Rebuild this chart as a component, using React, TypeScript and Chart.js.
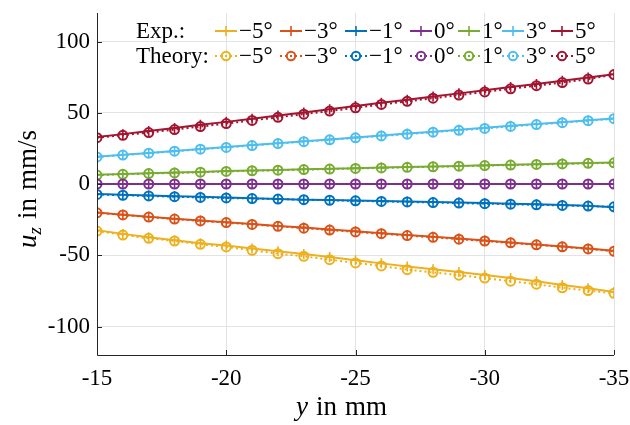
import React, { useEffect, useRef } from "react";
import { Chart, registerables } from "chart.js";

Chart.register(...registerables);

const yPositions = [-15, -16, -17, -18, -19, -20, -21, -22, -23, -24, -25, -26, -27, -28, -29, -30, -31, -32, -33, -34, -35];

const angleLabels = ["\u22125\u00B0", "\u22123\u00B0", "\u22121\u00B0", "0\u00B0", "1\u00B0", "3\u00B0", "5\u00B0"];
const seriesColors = ["#EDB120", "#D95319", "#0072BD", "#7E2F8E", "#77AC30", "#4DBEEE", "#A2142F"];

const expM5 = [-32.5, -35, -37.3, -39.4, -41.5, -43.2, -45.2, -47.2, -49.2, -51.3, -53.5, -55.7, -57.9, -59.8, -61.8, -63.8, -66, -68.3, -70.8, -73.2, -75.8];
const expM3 = [-20, -21.5, -23, -24.4, -25.6, -26.8, -28, -29.4, -30.6, -32, -33.2, -34.5, -35.8, -37, -38.3, -39.6, -41, -42.4, -43.8, -45.3, -46.8];
const expM1 = [-7, -7.5, -8, -8.6, -9, -9.5, -10, -10.5, -11, -11.3, -11.6, -12, -12.3, -12.7, -13, -13.4, -13.8, -14.2, -14.7, -15.3, -16.3];
const exp0 = [0, 0, 0, 0, 0, 0, 0, 0, 0, 0, 0, 0, 0, 0, 0, 0, 0, 0, 0, 0, 0];
const exp1 = [6.5, 7, 7.5, 8, 8.5, 9.1, 9.5, 9.9, 10.3, 10.7, 11.1, 11.5, 11.9, 12.3, 12.7, 13.1, 13.5, 13.9, 14.3, 14.7, 15.1];
const exp3 = [19.2, 20.5, 21.8, 23.2, 24.6, 26, 27.3, 28.6, 30, 31.3, 32.7, 34, 35.4, 36.7, 38.1, 39.5, 40.8, 42.1, 43.4, 44.7, 46];
const exp5 = [33, 35, 37.2, 39.3, 41.5, 43.6, 45.8, 48, 50.2, 52.5, 54.7, 57, 59.2, 61.4, 63.6, 65.8, 68, 70.2, 72.4, 74.7, 77];

const thM5 = [-33, -35.8, -38.1, -40, -42.3, -44.2, -46.5, -48.9, -50.7, -53.1, -55.4, -57.5, -60.1, -62, -64, -66, -68.2, -70.3, -72.8, -74.8, -76.7];
const thM3 = [-20.2, -21.7, -23.2, -24.6, -25.9, -27.1, -28.4, -29.7, -31, -32.3, -33.6, -34.9, -36.2, -37.4, -38.7, -40, -41.3, -42.7, -44.1, -45.6, -47.2];
const thM1 = [-7.3, -7.9, -8.4, -8.9, -9.4, -9.8, -10.2, -10.6, -11, -11.4, -11.8, -12.2, -12.6, -13, -13.4, -13.8, -14.2, -14.6, -15, -15.5, -16];
const th0 = [0, 0, 0, 0, 0, 0, 0, 0, 0, 0, 0, 0, 0, 0, 0, 0, 0, 0, 0, 0, 0];
const th1 = [6.3, 6.8, 7.3, 7.8, 8.3, 8.8, 9.3, 9.7, 10.1, 10.5, 10.9, 11.3, 11.7, 12.1, 12.5, 12.9, 13.3, 13.7, 14.1, 14.5, 14.9];
const th3 = [19, 20.3, 21.6, 23, 24.4, 25.7, 27, 28.4, 29.7, 31, 32.4, 33.7, 35, 36.4, 37.7, 39, 40.4, 41.7, 43, 44.4, 45.8];
const th5 = [32.5, 34.2, 36.1, 38.2, 40.3, 42.4, 44.6, 46.8, 49, 51.2, 53.5, 55.8, 58, 60.2, 62.4, 64.6, 66.8, 69, 71.2, 73.6, 76.8];

const expSeries = [expM5, expM3, expM1, exp0, exp1, exp3, exp5];
const theorySeries = [thM5, thM3, thM1, th0, th1, th3, th5];

const xTicks = [-15, -20, -25, -30, -35];
const yTicks = [-100, -50, 0, 50, 100];

const SERIF = "'Liberation Serif', 'DejaVu Serif', serif";
const AXIS_COLOR = "#262626";

function drawPlus(ctx: CanvasRenderingContext2D, x: number, y: number, r: number, color: string) {
  ctx.save();
  ctx.strokeStyle = color;
  ctx.lineWidth = 1.6;
  ctx.beginPath();
  ctx.moveTo(x - r, y);
  ctx.lineTo(x + r, y);
  ctx.moveTo(x, y - r);
  ctx.lineTo(x, y + r);
  ctx.stroke();
  ctx.restore();
}

const decorPlugin = {
  id: "decor",
  afterDraw(chart: any) {
    const ctx: CanvasRenderingContext2D = chart.ctx;
    const { left, right, top, bottom } = chart.chartArea;
    const xs = chart.scales.x;
    const ys = chart.scales.y;
    ctx.save();
    // axis lines
    ctx.strokeStyle = AXIS_COLOR;
    ctx.lineWidth = 1;
    ctx.beginPath();
    ctx.moveTo(left + 0.5, top);
    ctx.lineTo(left + 0.5, bottom + 0.5);
    ctx.lineTo(right, bottom + 0.5);
    ctx.stroke();
    // inward ticks
    ctx.beginPath();
    for (const v of xTicks) {
      const px = Math.round(xs.getPixelForValue(v)) + 0.5;
      ctx.moveTo(px, bottom);
      ctx.lineTo(px, bottom - 5);
    }
    for (const v of yTicks) {
      const py = Math.round(ys.getPixelForValue(v)) + 0.5;
      ctx.moveTo(left, py);
      ctx.lineTo(left + 5, py);
    }
    ctx.stroke();

    // x axis title
    ctx.fillStyle = "#000";
    ctx.textBaseline = "alphabetic";
    ctx.textAlign = "left";
    let x = 296;
    const by = 415;
    ctx.font = `italic 27px ${SERIF}`;
    ctx.fillText("y", x, by);
    x += ctx.measureText("y").width + 8;
    ctx.font = `27px ${SERIF}`;
    ctx.fillText("in", x, by);
    x += ctx.measureText("in").width + 8;
    ctx.fillText("mm", x, by);

    // y axis title
    ctx.save();
    ctx.translate(36, 180);
    ctx.rotate(-Math.PI / 2);
    ctx.font = `italic 27px ${SERIF}`;
    let tx = -68;
    ctx.fillText("u", tx, 0);
    tx += ctx.measureText("u").width;
    ctx.font = `italic 19px ${SERIF}`;
    ctx.fillText("z", tx, 5);
    tx += ctx.measureText("z").width + 8;
    ctx.font = `27px ${SERIF}`;
    ctx.fillText("in", tx, 0);
    tx += ctx.measureText("in").width + 8;
    ctx.fillText("mm/s", tx, 0);
    ctx.restore();

    // legend
    const cols = [215, 280, 345, 410, 458, 502, 551];
    const rows = [31, 56];
    ctx.font = `23px ${SERIF}`;
    ctx.textBaseline = "middle";
    ctx.fillStyle = "#000";
    ctx.fillText("Exp.:", 136, rows[0] + 1);
    ctx.fillText("Theory:", 136, rows[1] + 1);
    for (let i = 0; i < cols.length; i++) {
      const c = seriesColors[i];
      const x0 = cols[i];
      // exp sample
      ctx.strokeStyle = c;
      ctx.lineWidth = 2;
      ctx.setLineDash([]);
      ctx.beginPath();
      ctx.moveTo(x0, rows[0]);
      ctx.lineTo(x0 + 22, rows[0]);
      ctx.stroke();
      drawPlus(ctx, x0 + 11, rows[0], 5, c);
      // theory sample
      ctx.setLineDash([2, 3]);
      ctx.beginPath();
      ctx.moveTo(x0, rows[1]);
      ctx.lineTo(x0 + 22, rows[1]);
      ctx.stroke();
      ctx.setLineDash([]);
      ctx.beginPath();
      ctx.arc(x0 + 11, rows[1], 4.2, 0, Math.PI * 2);
      ctx.stroke();
      ctx.fillStyle = "#000";
      ctx.fillText(angleLabels[i], x0 + 24, rows[0] + 1);
      ctx.fillText(angleLabels[i], x0 + 24, rows[1] + 1);
    }
    ctx.restore();
  },
};

export default function App() {
  const ref = useRef<HTMLCanvasElement | null>(null);
  useEffect(() => {
    if (!ref.current) return;
    const datasets: any[] = [];
    for (let i = 0; i < seriesColors.length; i++) {
      datasets.push({
        label: "Exp. " + angleLabels[i],
        data: yPositions.map((yv, k) => ({ x: yv, y: expSeries[i][k] })),
        borderColor: seriesColors[i],
        backgroundColor: seriesColors[i],
        borderWidth: 2,
        pointStyle: "cross",
        pointRadius: 5,
        pointBorderWidth: 1.6,
        pointBorderColor: seriesColors[i],
        tension: 0,
        order: 1,
      });
      datasets.push({
        label: "Theory " + angleLabels[i],
        data: yPositions.map((yv, k) => ({ x: yv, y: theorySeries[i][k] })),
        borderColor: seriesColors[i],
        backgroundColor: "rgba(0,0,0,0)",
        borderWidth: 2,
        borderDash: [2, 3],
        pointStyle: "circle",
        pointRadius: 4.5,
        pointBorderWidth: 2,
        pointBorderColor: seriesColors[i],
        pointBackgroundColor: "rgba(0,0,0,0)",
        tension: 0,
        order: 2,
      });
    }
    const chart = new Chart(ref.current, {
      type: "line",
      data: { datasets },
      options: {
        animation: false,
        responsive: false,
        maintainAspectRatio: false,
        layout: { padding: { top: 13, right: 16, left: 0, bottom: 0 } },
        plugins: { legend: { display: false }, tooltip: { enabled: false } },
        scales: {
          x: {
            type: "linear",
            reverse: true,
            min: -35,
            max: -15,
            afterBuildTicks: (s: any) => {
              s.ticks = xTicks.map((v) => ({ value: v }));
            },
            afterFit: (s: any) => {
              s.height = 70;
              s.paddingLeft = 0;
              s.paddingRight = 0;
            },
            border: { display: false },
            grid: { color: "#e3e3e3", lineWidth: 1, drawTicks: false },
            ticks: {
              color: "#000",
              font: { family: SERIF, size: 23 },
              padding: 10,
              maxRotation: 0,
              callback: (v: any) => String(v),
            },
          },
          y: {
            type: "linear",
            min: -120,
            max: 120,
            afterBuildTicks: (s: any) => {
              s.ticks = yTicks.map((v) => ({ value: v }));
            },
            afterFit: (s: any) => {
              s.width = 97;
              s.paddingTop = 0;
              s.paddingBottom = 0;
            },
            border: { display: false },
            grid: { color: "#e3e3e3", lineWidth: 1, drawTicks: false },
            ticks: {
              color: "#000",
              font: { family: SERIF, size: 23 },
              padding: 7,
              callback: (v: any) => String(v),
            },
          },
        },
      },
      plugins: [decorPlugin],
    });
    return () => chart.destroy();
  }, []);
  return (
    <div style={{ position: "fixed", left: 0, top: 0, width: 630, height: 425, background: "#fff" }}>
      <canvas ref={ref} width={630} height={425} style={{ width: 630, height: 425 }} />
    </div>
  );
}
